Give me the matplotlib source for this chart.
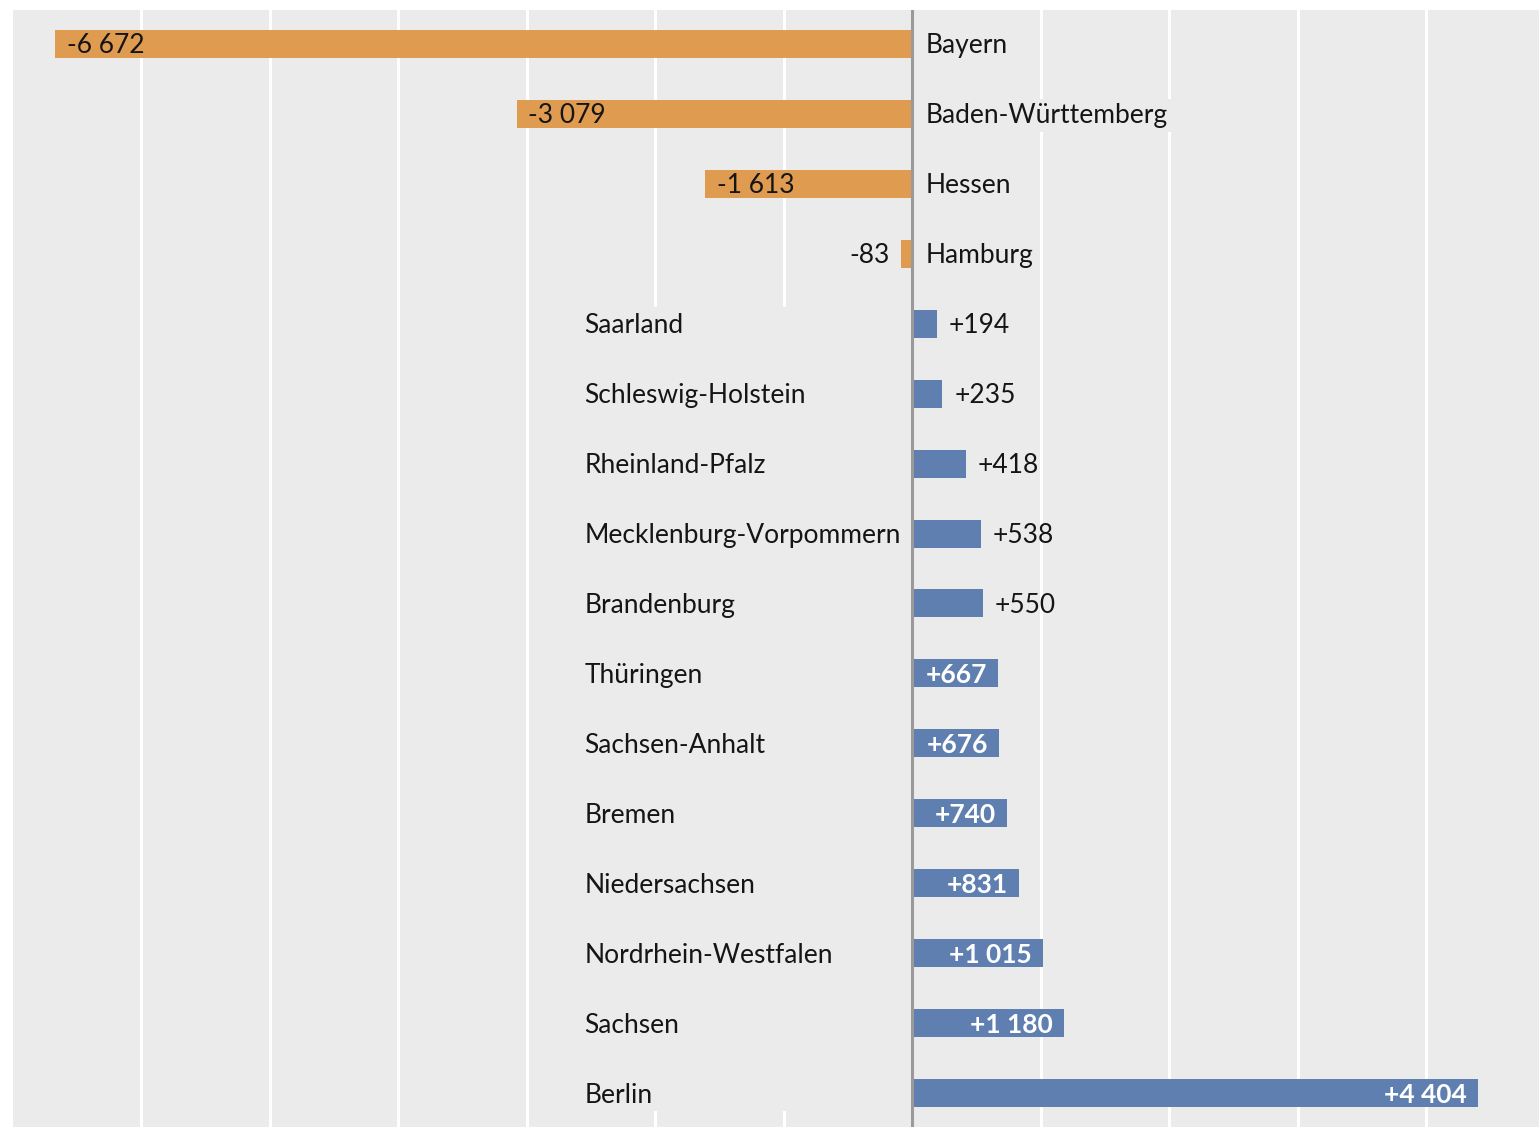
import matplotlib
matplotlib.use("Agg")
import matplotlib.pyplot as plt
from matplotlib.patches import Rectangle

# ---- data ----
states = ["Bayern", "Baden-Württemberg", "Hessen", "Hamburg", "Saarland",
          "Schleswig-Holstein", "Rheinland-Pfalz", "Mecklenburg-Vorpommern",
          "Brandenburg", "Thüringen", "Sachsen-Anhalt", "Bremen",
          "Niedersachsen", "Nordrhein-Westfalen", "Sachsen", "Berlin"]
values = [-6672, -3079, -1613, -83, 194, 235, 418, 538, 550, 667, 676, 740,
          831, 1015, 1180, 4404]
grid_ticks = [-6000, -5000, -4000, -3000, -2000, -1000, 1000, 2000, 3000, 4000]

# ---- style ----
BG = "#ebebeb"
ORANGE = "#df9b50"
BLUE = "#5f7fb0"
ZERO = "#9a9a9a"
TXT = "#151515"
FS = 19
DY = -0.36 * FS  # baseline offset so cap height is centred on the bar
plt.rcParams['font.family'] = ['Lato', 'DejaVu Sans']


def fmt(v):
    s = f"{abs(v):,}".replace(",", " ")
    return ("+" if v > 0 else "-") + s


fig = plt.figure(figsize=(15.39, 11.27), dpi=100)
fig.patch.set_facecolor("white")
ax = fig.add_axes([13 / 1539, 0, 1 - 13 / 1539, 1 - 10 / 1127])
ax.set_facecolor(BG)
ax.set_xlim(-7000, 4880)
n = len(states)
ax.set_ylim(n - 1 + 0.486, -0.486)
for s in ax.spines.values():
    s.set_visible(False)
ax.set_xticks([])
ax.set_yticks([])

for g in grid_ticks:
    ax.axvline(g, color="white", lw=2.2, zorder=1)

# mask behind left-side labels
ax.add_patch(Rectangle((-2650, 3.76), 2650, 15.26 - 3.76, facecolor=BG,
                       edgecolor="none", zorder=1.5))

ys = list(range(n))
colors = [ORANGE if v < 0 else BLUE for v in values]
ax.barh(ys, values, height=0.4, color=colors, zorder=2)
ax.axvline(0, color=ZERO, lw=2.2, zorder=3)

common = dict(textcoords="offset points", va="baseline", fontsize=FS, zorder=4)
for y, name, v in zip(ys, states, values):
    label = fmt(v)
    if v < 0:
        ax.annotate(name, (0, y), xytext=(10, DY), ha="left", color=TXT,
                    bbox=dict(boxstyle="square,pad=0.15", fc=BG, ec="none"),
                    **common)
        if abs(v) > 600:
            ax.annotate(label, (v, y), xytext=(8.5, DY), ha="left", color=TXT,
                        **common)
        else:
            ax.annotate(label, (v, y), xytext=(-8.5, DY), ha="right", color=TXT,
                        **common)
    else:
        ax.annotate(name, (-2550, y), xytext=(0, DY), ha="left", color=TXT,
                    **common)
        if v > 600:
            ax.annotate(label, (v, y), xytext=(-8, DY), ha="right",
                        color="white", fontweight="bold", **common)
        else:
            ax.annotate(label, (v, y), xytext=(8.5, DY), ha="left", color=TXT,
                        **common)

fig.savefig("out.png", dpi=100, facecolor="white")
